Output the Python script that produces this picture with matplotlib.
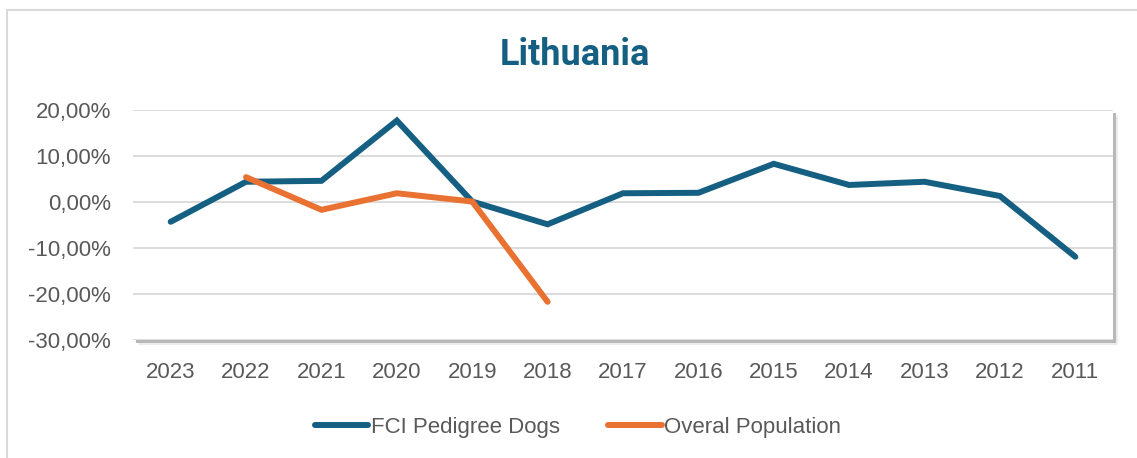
import matplotlib.pyplot as plt
from matplotlib.patches import Rectangle
from matplotlib.ticker import FuncFormatter

years = ["2023", "2022", "2021", "2020", "2019", "2018", "2017",
         "2016", "2015", "2014", "2013", "2012", "2011"]
fci_dogs = [-4.3, 4.4, 4.6, 17.7, 0.1, -4.85, 1.9, 2.0, 8.3, 3.7, 4.4, 1.3, -11.9]
overal_pop = [None, 5.4, -1.7, 1.9, 0.1, -21.7, None, None, None, None, None, None, None]

BLUE = "#156082"
ORANGE = "#E97132"
TXT = "#595959"

plt.rcParams['font.family'] = ['Liberation Sans', 'DejaVu Sans']

fig = plt.figure(figsize=(11.37, 4.58), dpi=100)
W, H = 1137, 458

# outer chart border
fig.patches.append(Rectangle((7 / W, -0.05), 1.2, (458 - 10) / H + 0.05,
                             transform=fig.transFigure, fill=False,
                             edgecolor="#d9d9d9", linewidth=1.5, zorder=0))

ax_l, ax_r, ax_t, ax_b = 133, 1113, 110, 340
pos = [ax_l / W, 1 - ax_b / H, (ax_r - ax_l) / W, (ax_b - ax_t) / H]

# plot area shadow
for off, col in [(5, "#ececec"), (3, "#b8b8b8")]:
    fig.patches.append(Rectangle((pos[0] + off / W, pos[1] - off / H), pos[2], pos[3],
                                 transform=fig.transFigure, facecolor=col,
                                 edgecolor="none", zorder=0.5))

ax = fig.add_axes(pos)
ax.set_facecolor("white")
ax.set_zorder(1)

x = list(range(len(years)))
ax.plot(x, fci_dogs, color=BLUE, linewidth=4.3, solid_capstyle="round",
        solid_joinstyle="miter", label="FCI Pedigree Dogs")
ox = [i for i, v in enumerate(overal_pop) if v is not None]
oy = [v for v in overal_pop if v is not None]
ax.plot(ox, oy, color=ORANGE, linewidth=4.3, solid_capstyle="round",
        solid_joinstyle="miter", label="Overal Population")

ax.set_xlim(-0.5, len(years) - 0.5)
ax.set_ylim(-30, 20)
ax.set_yticks([-30, -20, -10, 0, 10, 20])
ax.yaxis.set_major_formatter(FuncFormatter(lambda v, p: f"{v:.2f}%".replace(".", ",")))
ax.set_xticks(x)
ax.set_xticklabels(years)
ax.grid(axis="y", color="#d9d9d9", linewidth=1.3)
ax.set_axisbelow(True)
for s in ax.spines.values():
    s.set_visible(False)
ax.tick_params(length=0, labelsize=16, labelcolor=TXT)
ax.tick_params(axis="x", pad=16)
ax.tick_params(axis="y", pad=16)

fig.text(575 / W, 1 - 55 / H, "Lithuania", ha="center", va="center",
         fontsize=26, fontweight="bold", color=BLUE, family=["Roboto", "DejaVu Sans"])

leg = fig.legend(loc="center", bbox_to_anchor=(578 / W, 1 - 427 / H), ncol=2,
                 frameon=False, fontsize=16, labelcolor=TXT, handlelength=2.4,
                 handletextpad=0.1, columnspacing=2.2)

fig.savefig("out.png", dpi=100)
